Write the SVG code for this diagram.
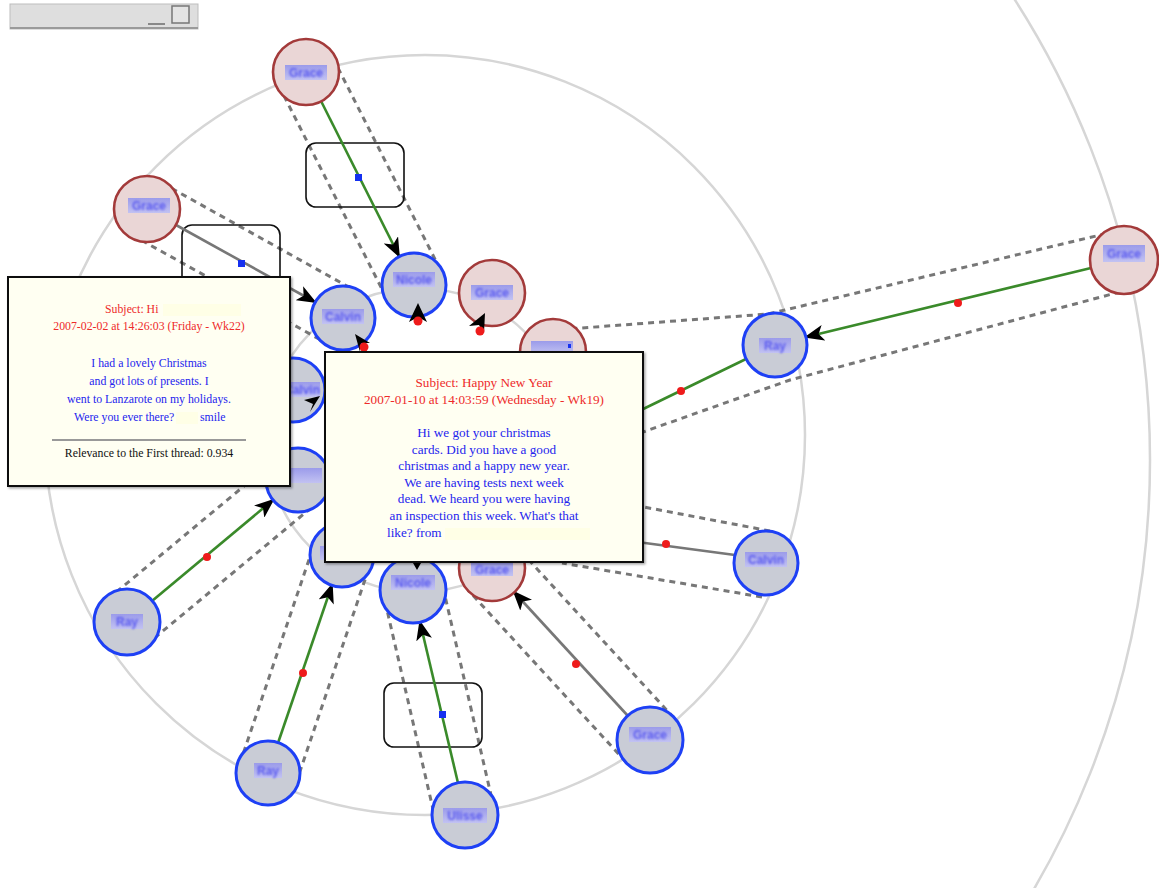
<svg xmlns="http://www.w3.org/2000/svg" width="1159" height="888" viewBox="0 0 1159 888">
<defs>
<style>
.ring{fill:none;stroke:#d6d6d6;stroke-width:2.5}
.env{fill:none;stroke:#777;stroke-width:3;stroke-dasharray:6 5}
.green{stroke:#3a8a2a;stroke-width:2.6;fill:none}
.grey{stroke:#777;stroke-width:2.6;fill:none}
.box{fill:none;stroke:#111;stroke-width:1.6}
.rn{fill:#ead6d6;stroke:#a33a3a;stroke-width:2.6}
.bn{fill:#c9ccd6;stroke:#1e40f5;stroke-width:3}
.lbl{font-family:"Liberation Sans",Arial,sans-serif;font-size:12px;font-weight:bold;fill:#5a5af0;text-anchor:middle;filter:url(#blur)}
.tip{fill:#fffff2;stroke:#111;stroke-width:2}
.t1{font-family:"Liberation Serif","Times New Roman",serif;font-size:11.8px;text-anchor:middle}
.t2{font-family:"Liberation Serif","Times New Roman",serif;font-size:13.2px;text-anchor:middle}
.red{fill:#ee2a2a}.blue{fill:#2424ee}.blk{fill:#111}
.dot{fill:#ee1b1b}
.sq{fill:#1530f0}
</style>
<linearGradient id="lg" x1="0" y1="0" x2="0" y2="1">
<stop offset="0" stop-color="#9b9bea"/><stop offset="1" stop-color="#c2c2f2"/>
</linearGradient>
<filter id="blur" x="-20%" y="-50%" width="140%" height="200%"><feGaussianBlur stdDeviation="0.9"/></filter>
<filter id="sh" x="-5%" y="-5%" width="110%" height="110%"><feDropShadow dx="1.5" dy="1.5" stdDeviation="1" flood-color="#000" flood-opacity="0.35"/></filter>
<marker id="ah" markerWidth="20" markerHeight="16" refX="18" refY="8" orient="auto" markerUnits="userSpaceOnUse">
<path d="M0,0 L20,8 L0,16 L5,8 Z" fill="#000"/>
</marker>
</defs>

<!-- window bar -->
<g id="titlebar">
<rect x="10" y="4" width="188" height="25" fill="#dedede" stroke="#bdbdbd" stroke-width="1"/>
<line x1="10" y1="28" x2="198" y2="28" stroke="#9a9a9a" stroke-width="2"/>
<line x1="148" y1="24" x2="165" y2="24" stroke="#888" stroke-width="2"/>
<rect x="172" y="6" width="17" height="17" fill="#e4e4e4" stroke="#777" stroke-width="1.5"/>
</g>

<!-- rings -->
<g id="rings">
<circle class="ring" cx="300" cy="460" r="850"/>
<circle class="ring" cx="425" cy="435" r="380"/>
<circle class="ring" cx="418" cy="440" r="152"/>
</g>

<g id="connectors">
<!-- envelopes -->
<line class="env" x1="333" y1="58" x2="441" y2="271"/>
<line class="env" x1="279" y1="86" x2="387" y2="299"/>
<line class="env" x1="162" y1="183" x2="372" y2="300"/>
<line class="env" x1="132" y1="235" x2="328" y2="344"/>
<path class="env" d="M1117,231 L768,314 L555,330"/>
<path class="env" d="M1131,289 L790,380 L643,432"/>
<line class="env" x1="770" y1="531" x2="570" y2="493"/>
<line class="env" x1="762" y1="597" x2="562" y2="563"/>
<line class="env" x1="674" y1="718" x2="516" y2="546"/>
<line class="env" x1="626" y1="762" x2="468" y2="590"/>
<line class="env" x1="494" y1="808" x2="442" y2="583"/>
<line class="env" x1="436" y1="822" x2="384" y2="597"/>
<line class="env" x1="296" y1="783" x2="370" y2="565"/>
<line class="env" x1="240" y1="763" x2="314" y2="545"/>
<line class="env" x1="146" y1="645" x2="317" y2="503"/>
<line class="env" x1="108" y1="599" x2="279" y2="457"/>
<!-- boxes -->
<rect class="box" x="306" y="143" width="98" height="64" rx="10"/>
<rect class="box" x="182" y="225" width="98" height="64" rx="10"/>
<rect class="box" x="384" y="683" width="98" height="64" rx="10"/>
<!-- main edges -->
<line class="green" x1="321" y1="101" x2="399" y2="256" marker-end="url(#ah)"/>
<line class="grey" x1="176" y1="225" x2="315" y2="302" marker-end="url(#ah)"/>
<line class="green" x1="1091" y1="268" x2="806" y2="337" marker-end="url(#ah)"/>
<line class="green" x1="746" y1="359" x2="600" y2="430"/>
<line class="grey" x1="735" y1="555" x2="600" y2="537"/>
<line class="grey" x1="628" y1="716" x2="514" y2="592" marker-end="url(#ah)"/>
<line class="green" x1="458" y1="783" x2="420" y2="622" marker-end="url(#ah)"/>
<line class="green" x1="278" y1="743" x2="332" y2="585" marker-end="url(#ah)"/>
<line class="green" x1="152" y1="601" x2="273" y2="500" marker-end="url(#ah)"/>
<!-- midpoints -->
<rect class="sq" x="355" y="174" width="7" height="7"/>
<rect class="sq" x="238" y="260" width="7" height="7"/>
<rect class="sq" x="439" y="711" width="7" height="7"/>
<circle class="dot" cx="958" cy="303" r="4"/>
<circle class="dot" cx="681" cy="391" r="4"/>
<circle class="dot" cx="666" cy="544" r="4"/>
<circle class="dot" cx="576" cy="664" r="4"/>
<circle class="dot" cx="303" cy="673" r="4"/>
<circle class="dot" cx="207" cy="557" r="4"/>
</g>

<!-- nodes -->
<g id="n-r1"><circle class="rn" cx="306" cy="72" r="33"/><rect x="285" y="65" width="42" height="15" fill="url(#lg)"/><text class="lbl" x="306" y="77">Grace</text></g>
<g id="n-r2"><circle class="rn" cx="147" cy="209" r="33"/><rect x="128" y="198" width="42" height="15" fill="url(#lg)"/><text class="lbl" x="149" y="210">Grace</text></g>
<g id="n-r3"><circle class="rn" cx="492" cy="293" r="33"/><rect x="471" y="285" width="42" height="15" fill="url(#lg)"/><text class="lbl" x="492" y="297">Grace</text></g>
<g id="n-r4"><circle class="rn" cx="553" cy="352" r="33"/><rect x="531" y="341" width="42" height="13" fill="url(#lg)"/><rect x="568" y="344" width="3" height="4" fill="#1530f0"/></g>
<g id="n-r5"><circle class="rn" cx="1124" cy="260" r="34"/><rect x="1103" y="245" width="42" height="17" fill="url(#lg)"/><text class="lbl" x="1124" y="258">Grace</text></g>
<g id="n-r6"><circle class="rn" cx="492" cy="568" r="33"/><rect x="471" y="562" width="42" height="14" fill="url(#lg)"/><text class="lbl" x="492" y="574">Grace</text></g>

<g id="n-b1"><circle class="bn" cx="414" cy="285" r="32"/><rect x="393" y="272" width="42" height="15" fill="url(#lg)"/><text class="lbl" x="414" y="284">Nicole</text></g>
<g id="n-b2"><circle class="bn" cx="343" cy="318" r="32"/><rect x="322" y="309" width="42" height="15" fill="url(#lg)"/><text class="lbl" x="343" y="321">Calvin</text></g>
<g id="n-b3"><circle class="bn" cx="293" cy="390" r="32"/><rect x="284" y="382" width="36" height="15" fill="url(#lg)"/><text class="lbl" x="302" y="394">Calvin</text></g>
<g id="n-b4"><circle class="bn" cx="298" cy="480" r="32"/><rect x="288" y="468" width="34" height="15" fill="url(#lg)"/></g>
<g id="n-b5"><circle class="bn" cx="342" cy="555" r="32"/><rect x="320" y="546" width="30" height="14" fill="url(#lg)"/></g>
<g id="n-b6"><circle class="bn" cx="413" cy="590" r="33"/><rect x="391" y="575" width="44" height="15" fill="url(#lg)"/><text class="lbl" x="413" y="587">Nicole</text></g>
<g id="n-b7"><circle class="bn" cx="766" cy="563" r="32"/><rect x="745" y="552" width="42" height="15" fill="url(#lg)"/><text class="lbl" x="766" y="564">Calvin</text></g>
<g id="n-b8"><circle class="bn" cx="775" cy="345" r="32"/><rect x="759" y="338" width="32" height="15" fill="url(#lg)"/><text class="lbl" x="775" y="350">Ray</text></g>
<g id="n-b9"><circle class="bn" cx="127" cy="622" r="33"/><rect x="111" y="614" width="32" height="15" fill="url(#lg)"/><text class="lbl" x="127" y="626">Ray</text></g>
<g id="n-b10"><circle class="bn" cx="268" cy="773" r="32"/><rect x="254" y="763" width="28" height="15" fill="url(#lg)"/><text class="lbl" x="268" y="775">Ray</text></g>
<g id="n-b11"><circle class="bn" cx="465" cy="815" r="33"/><rect x="443" y="808" width="44" height="15" fill="url(#lg)"/><text class="lbl" x="465" y="820">Ulisse</text></g>
<g id="n-b12"><circle class="bn" cx="650" cy="740" r="33"/><rect x="629" y="727" width="42" height="15" fill="url(#lg)"/><text class="lbl" x="650" y="739">Grace</text></g>

<!-- small arrowheads / dots from hidden edges -->
<g id="stubs">
<path d="M418,303 L427,322 L418,317 L409,322 Z" fill="#000"/>
<circle class="dot" cx="418" cy="321" r="4.5"/>
<path d="M485,313 L484,333 L479,325 L469,326 Z" fill="#000"/>
<circle class="dot" cx="480" cy="331" r="4.5"/>
<path d="M355,334 L370,343 L361,343 L360,352 Z" fill="#000"/>
<circle class="dot" cx="364" cy="347" r="4.5"/>
<path d="M320,396 L310,412 L313,404 L304,400 Z" fill="#000"/>
<path d="M417,570 L409,556 L417,560 L425,556 Z" fill="#000"/>
</g>

<!-- tooltips -->
<g id="tip-left">
<rect class="tip" x="8" y="277" width="282" height="209" filter="url(#sh)"/>
<text class="t1 red" x="105" y="313" style="text-anchor:start">Subject: Hi</text>
<rect x="163" y="304" width="78" height="12" fill="#ffffe6"/>
<text class="t1 red" x="149" y="330">2007-02-02 at 14:26:03 (Friday - Wk22)</text>
<text class="t1 blue" x="149" y="367">I had a lovely Christmas</text>
<text class="t1 blue" x="149" y="385">and got lots of presents. I</text>
<text class="t1 blue" x="149" y="403">went to Lanzarote on my holidays.</text>
<text class="t1 blue" x="74" y="421" style="text-anchor:start">Were you ever there?</text>
<rect x="176" y="412" width="22" height="12" fill="#ffffe6"/>
<text class="t1 blue" x="200" y="421" style="text-anchor:start">smile</text>
<line x1="52" y1="440" x2="246" y2="440" stroke="#999" stroke-width="2"/>
<text class="t1 blk" x="149" y="457">Relevance to the First thread: 0.934</text>
</g>

<g id="tip-right">
<rect class="tip" x="325" y="352" width="318" height="210" filter="url(#sh)"/>
<text class="t2 red" x="484" y="387">Subject: Happy New Year</text>
<text class="t2 red" x="484" y="404">2007-01-10 at 14:03:59 (Wednesday - Wk19)</text>
<text class="t2 blue" x="484" y="437">Hi we got your christmas</text>
<text class="t2 blue" x="484" y="454">cards. Did you have a good</text>
<text class="t2 blue" x="484" y="470">christmas and a happy new year.</text>
<text class="t2 blue" x="484" y="487">We are having tests next week</text>
<text class="t2 blue" x="484" y="503">dead. We heard you were having</text>
<text class="t2 blue" x="484" y="520">an inspection this week. What's that</text>
<text class="t2 blue" x="387" y="537" style="text-anchor:start">like? from</text>
<rect x="445" y="528" width="145" height="12" fill="#ffffe6"/>
</g>
</svg>
